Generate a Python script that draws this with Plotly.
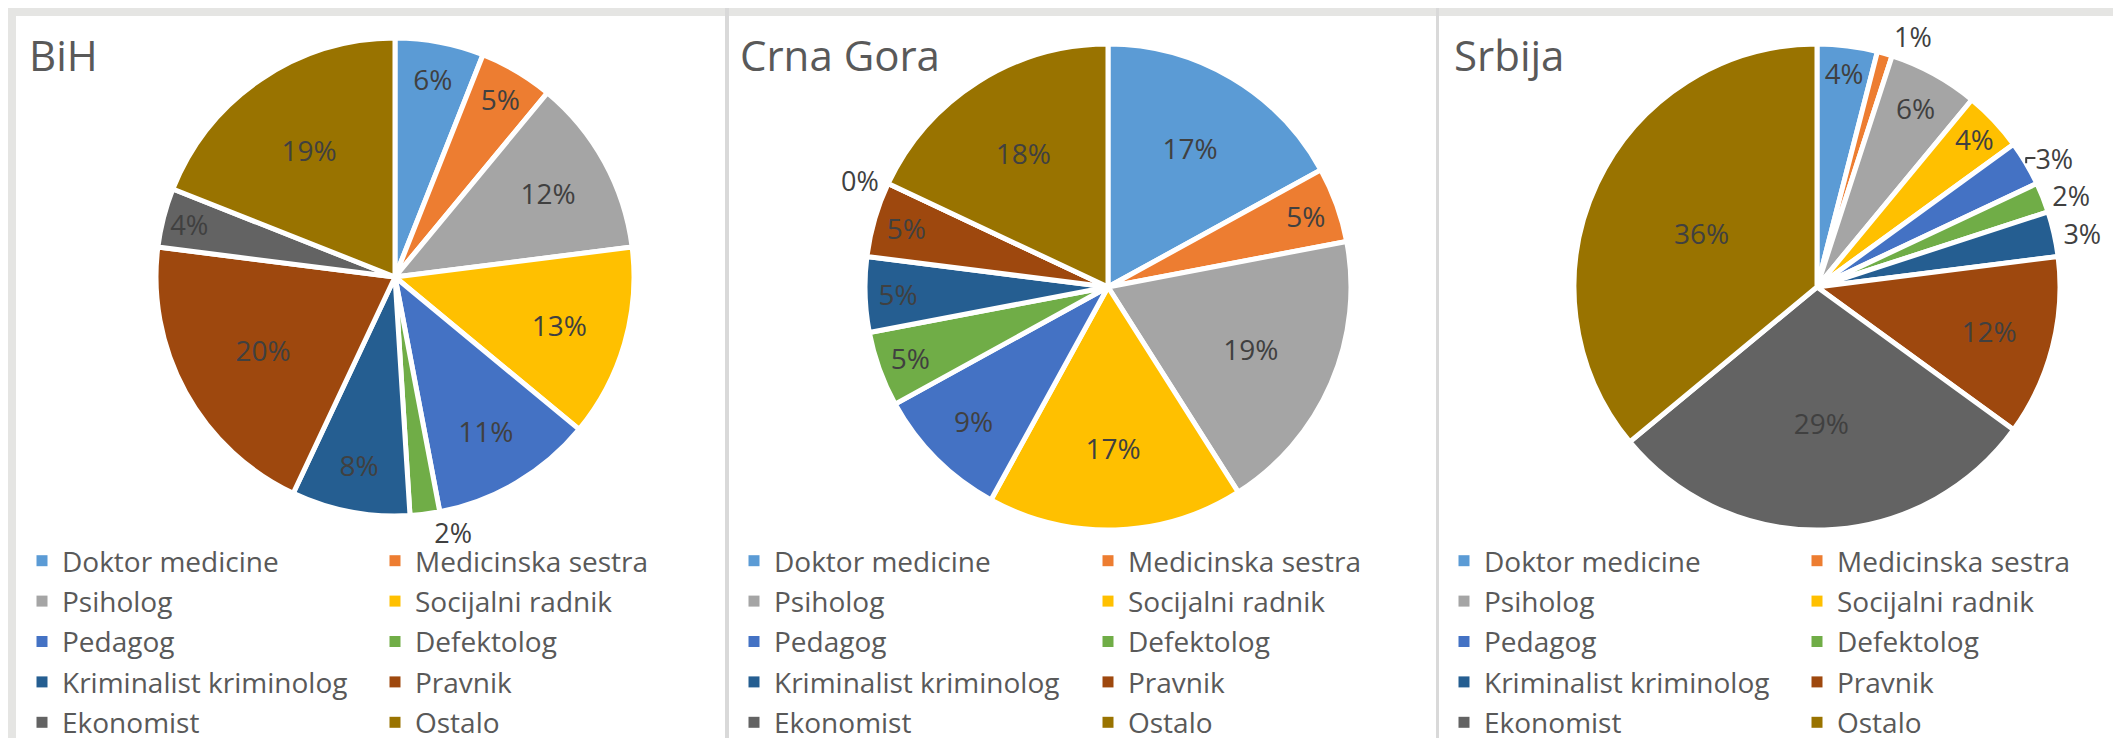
import plotly.graph_objects as go

# ---------------- data ----------------
categories = ["Doktor medicine", "Medicinska sestra", "Psiholog", "Socijalni radnik",
              "Pedagog", "Defektolog", "Kriminalist kriminolog", "Pravnik",
              "Ekonomist", "Ostalo"]
panel_titles = ["BiH", "Crna Gora", "Srbija"]
bih_values = [6, 5, 12, 13, 11, 2, 8, 20, 4, 19]
crna_gora_values = [17, 5, 19, 17, 9, 5, 5, 5, 0, 18]
srbija_values = [4, 1, 6, 4, 3, 2, 3, 12, 29, 36]

# ---------------- style ----------------
colors = ["#5B9BD5", "#ED7D31", "#A5A5A5", "#FFC000", "#4472C4",
          "#70AD47", "#255E91", "#9E480E", "#636363", "#997300"]
W, H = 2121, 738
radii = [239, 243, 243]
centers = [(387, 269), (1100, 279), (1809, 279)]
outside_idx = [[5], [8], [1, 4, 5, 6]]
title_x = [19, 730, 1444]
legend_lefts = [(14, 367), (726, 1080), (1436, 1789)]
legend_top = 528
FONT = "Open Sans"

fig = go.Figure()

for p, vals in enumerate([bih_values, crna_gora_values, srbija_values]):
    cx, cy = centers[p]
    R = radii[p]
    tpos = ["outside" if i in outside_idx[p] else "inside" for i in range(len(vals))]
    fig.add_trace(go.Pie(
        labels=categories, values=vals, sort=False, direction="clockwise", rotation=0,
        marker=dict(colors=colors, line=dict(color="white", width=5)),
        texttemplate="%{percent:.0%}", textposition=tpos,
        insidetextorientation="horizontal",
        textfont=dict(family=FONT, size=28, color="#404040"),
        outsidetextfont=dict(family=FONT, size=27, color="#404040"),
        domain=dict(x=[(cx - R) / W, (cx + R) / W], y=[1 - (cy + R) / H, 1 - (cy - R) / H]),
        showlegend=False, hoverinfo="label+percent", name=panel_titles[p],
    ))

# legend entries (two columns per panel)
layout_legends = {}
for p in range(3):
    for col in range(2):
        lg_index = p * 2 + col + 1
        lg_name = "legend" if lg_index == 1 else f"legend{lg_index}"
        for i in range(col, len(categories), 2):
            fig.add_trace(go.Scatter(
                x=[None], y=[None], mode="markers",
                marker=dict(symbol="square", size=11, color=colors[i]),
                name=categories[i], legend=lg_name,
                legendgroup=f"{lg_name}_{i}", showlegend=True,
            ))
        layout_legends[lg_name] = dict(
            x=legend_lefts[p][col] / W, y=1 - legend_top / H,
            xanchor="left", yanchor="top", orientation="v",
            bgcolor="rgba(0,0,0,0)", borderwidth=0,
            traceorder="grouped", tracegroupgap=1,
            font=dict(family=FONT, size=28, color="#595959"),
        )

shapes = [
    dict(type="rect", xref="paper", yref="paper", x0=0, x1=1, y0=1 - 8 / H, y1=1,
         fillcolor="#E5E5E3", line=dict(width=0), layer="below"),
    dict(type="rect", xref="paper", yref="paper", x0=0, x1=8 / W, y0=0, y1=1,
         fillcolor="#E5E5E3", line=dict(width=0), layer="below"),
    dict(type="rect", xref="paper", yref="paper", x0=717 / W, x1=721 / W, y0=0, y1=1,
         fillcolor="#D9D9D9", line=dict(width=0), layer="below"),
    dict(type="rect", xref="paper", yref="paper", x0=1428 / W, x1=1431 / W, y0=0, y1=1,
         fillcolor="#D9D9D9", line=dict(width=0), layer="below"),
]

annotations = [
    dict(text=t, xref="paper", yref="paper", x=title_x[k] / W, y=1 - 47 / H,
         xanchor="left", yanchor="middle", showarrow=False,
         font=dict(family=FONT, size=42, color="#595959"))
    for k, t in enumerate(panel_titles)
]

fig.update_layout(
    width=W, height=H, margin=dict(l=0, r=0, t=0, b=0, autoexpand=False),
    paper_bgcolor="white", plot_bgcolor="rgba(0,0,0,0)",
    xaxis=dict(visible=False), yaxis=dict(visible=False),
    shapes=shapes, annotations=annotations,
    **layout_legends,
)

fig.write_html("out.html")
